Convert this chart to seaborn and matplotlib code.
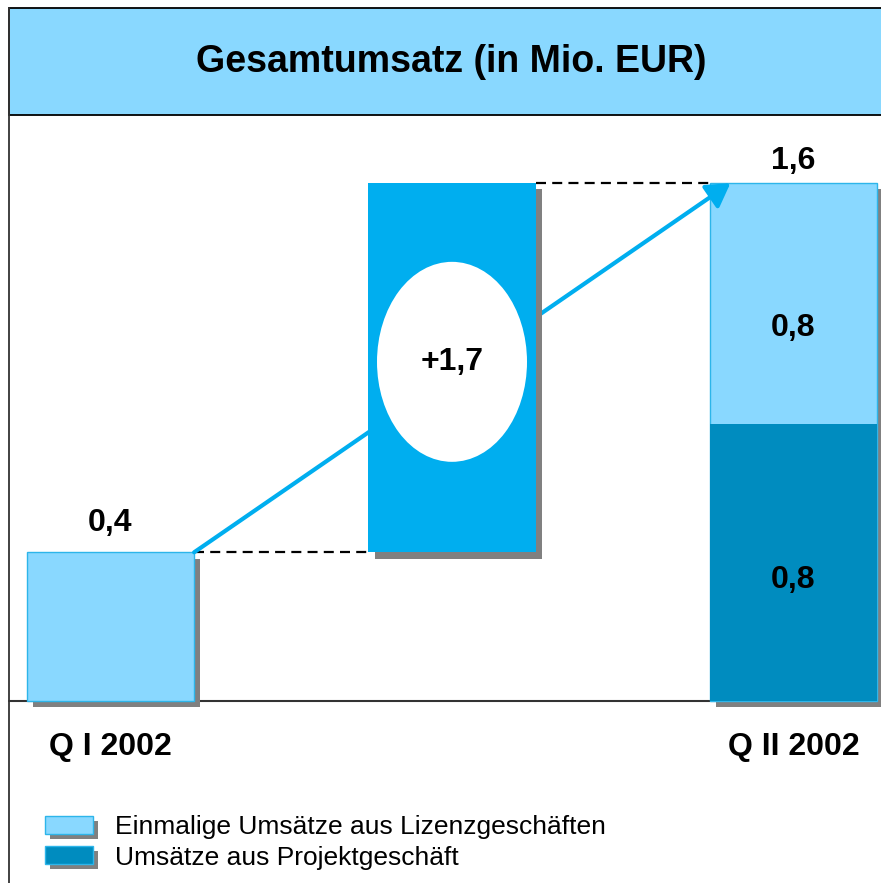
import numpy as np
import pandas as pd
import seaborn as sns
import matplotlib
matplotlib.use('Agg')
import matplotlib.pyplot as plt
from matplotlib import patheffects, patches, lines

# data
cats = ["Q I 2002", "Zuwachs", "Q II 2002"]
tick_labels = ["Q I 2002", "", "Q II 2002"]
gesamt = [0.4, 1.6]          # total per quarter
projekt = [0.0, 0.8]         # Umsaetze aus Projektgeschaeft
lizenz = [0.4, 0.8]          # einmalige Lizenzumsaetze
value_labels = ["0,4", "1,6"]
segment_labels = ["0,8", "0,8"]
zuwachs_label = "+1,7"
title = "Gesamtumsatz (in Mio. EUR)"
legend_labels = ["Einmalige Umsätze aus Lizenzgeschäften", "Umsätze aus Projektgeschäft"]

light = '#89D8FF'
mid = '#00AEEF'
dark = '#008CBF'
edge = '#2DB5EA'
shadow_col = '#808080'

sns.set_theme(style='white')
plt.rcParams['font.family'] = ['Liberation Sans', 'DejaVu Sans']
plt.rcParams['text.color'] = 'black'
plt.rcParams['xtick.color'] = 'black'

shadow = [patheffects.SimplePatchShadow(offset=(4.5, -4.5), shadow_rgbFace=shadow_col, alpha=1.0),
          patheffects.Normal()]
shadow_small = [patheffects.SimplePatchShadow(offset=(3.5, -3.5), shadow_rgbFace=shadow_col, alpha=1.0),
                patheffects.Normal()]

fig = plt.figure(figsize=(8.81, 8.83), dpi=100)
ax = fig.add_axes([9/881, 182/883, 872/881, 586/883])

bw = 0.49
# full height bars (light), project part drawn over it (dark)
sns.barplot(x=[cats[0], cats[2]], y=gesamt, order=cats, color=light, saturation=1, width=bw,
            errorbar=None, edgecolor=edge, linewidth=1, path_effects=shadow, clip_on=False,
            zorder=2, ax=ax)
sns.barplot(x=[cats[0], cats[2]], y=projekt, order=cats, color=dark, saturation=1, width=bw,
            errorbar=None, linewidth=0, clip_on=False, zorder=3, ax=ax)
# floating bar for the increase
sns.barplot(x=[cats[1]], y=[gesamt[1] - gesamt[0]], bottom=gesamt[0], order=cats, color=mid,
            saturation=1, width=bw, errorbar=None, linewidth=0, path_effects=shadow, zorder=5, ax=ax)

# chart is not drawn to a linear scale on the slide, a mild power scale fits it
ax.set_yscale('function', functions=(lambda v: np.sign(v) * np.abs(v) ** 0.9,
                                     lambda v: np.sign(v) * np.abs(v) ** (1 / 0.9)))
ax.set_ylim(0, 1.836)
ax.set_xlim(-0.297, 2.256)

# dashed connectors
ax.plot([0 + bw/2, 1 - bw/2], [gesamt[0], gesamt[0]], color='black', lw=1.6,
        linestyle=(0, (4.5, 2.8)), zorder=1.5)
ax.plot([1 + bw/2, 2 - bw/2], [gesamt[1], gesamt[1]], color='black', lw=1.6,
        linestyle=(0, (4.5, 2.8)), zorder=1.5)

# arrow from Q I to Q II (passes behind the middle bar)
ax.annotate("", xy=(2 - bw/2 + 0.06, gesamt[1]), xytext=(0 + bw/2, gesamt[0]),
            arrowprops=dict(arrowstyle='-|>,head_length=0.5,head_width=0.3', mutation_scale=28,
                            color=mid, lw=3, shrinkA=0, shrinkB=0), zorder=4)

ax.axhline(0, color='#333333', lw=1.5, zorder=1, clip_on=False)

# white ellipse with the increase
mid_y = (gesamt[0] + gesamt[1]) / 2
cx, cy = ax.transData.transform((1, mid_y))
ell = patches.Ellipse((cx / fig.dpi, cy / fig.dpi), 1.5, 2.0, transform=fig.dpi_scale_trans,
                      facecolor='white', edgecolor='none', zorder=6)
ax.add_artist(ell)
ax.annotate(zuwachs_label, xy=(1, mid_y), ha='center', va='center', fontsize=23,
            fontweight='bold', zorder=7)

# value labels
for i, (pos, lab, off) in enumerate(zip([0, 2], value_labels, [15, 10])):
    ax.annotate(lab, xy=(pos, gesamt[i]), xytext=(0, off), textcoords='offset points',
                ha='center', va='baseline', fontsize=23, fontweight='bold', zorder=7)
ax.annotate(segment_labels[0], xy=(2, projekt[1] + lizenz[1] / 2), xytext=(0, -19),
            textcoords='offset points', ha='center', va='center', fontsize=23,
            fontweight='bold', zorder=7)
ax.annotate(segment_labels[1], xy=(2, projekt[1] / 2), xytext=(0, -20),
            textcoords='offset points', ha='center', va='center', fontsize=23,
            fontweight='bold', zorder=7)

ax.set_xticks([0, 1, 2])
ax.set_xticklabels(tick_labels, fontsize=23, fontweight='bold', color='black')
ax.tick_params(axis='x', length=0, pad=22)
ax.set_yticks([])
ax.set_xlabel('')
ax.set_ylabel('')
for s in ax.spines.values():
    s.set_visible(False)

# title box and frame lines
fig.add_artist(patches.Rectangle((9/881, 1 - 115/883), 1.0, (115 - 8)/883, transform=fig.transFigure,
                                 facecolor=light, edgecolor='black', lw=1.3, zorder=1))
fig.text(451/881, 1 - 62/883, title, ha='center', va='center', fontsize=27, fontweight='bold',
         zorder=2)
fig.add_artist(lines.Line2D([9/881, 9/881], [0, 1 - 8/883], transform=fig.transFigure,
                            color='#333333', lw=1.3))

fig.legend(handles=[patches.Patch(facecolor=light, edgecolor=edge, path_effects=shadow_small),
                    patches.Patch(facecolor=dark, edgecolor=edge, path_effects=shadow_small)],
           labels=legend_labels, loc='upper left', bbox_to_anchor=(45/881, 1 - 815/883),
           frameon=False, borderpad=0, borderaxespad=0, handlelength=1.82, handleheight=0.68,
           handletextpad=0.83, labelspacing=0.25, fontsize=19)

fig.savefig('out.png', dpi=100)
